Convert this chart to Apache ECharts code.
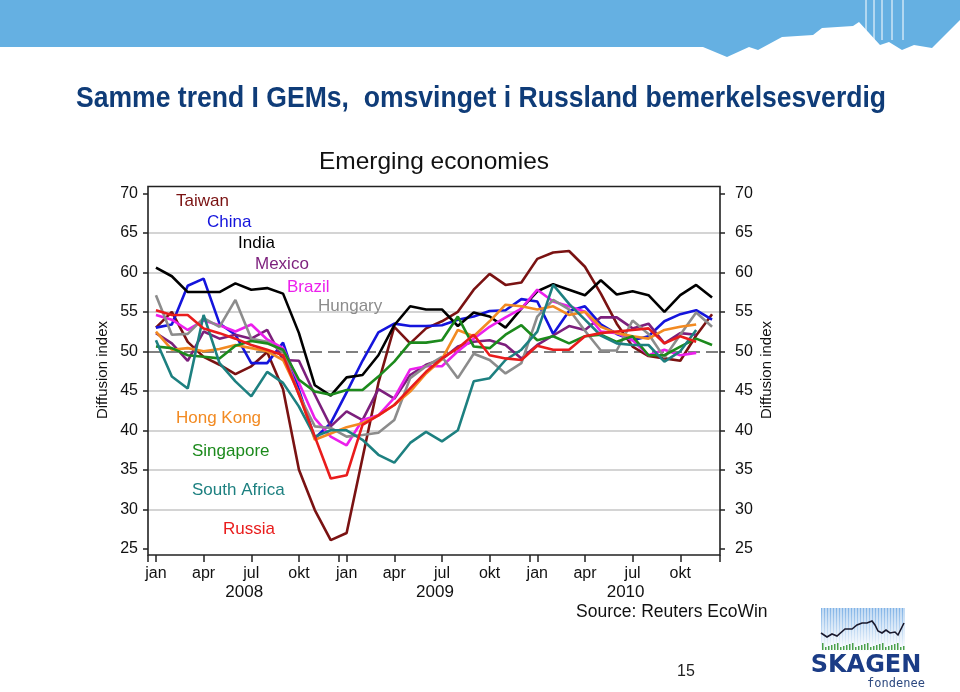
<!DOCTYPE html>
<html><head><meta charset="utf-8">
<script src="https://cdn.jsdelivr.net/npm/echarts@6/dist/echarts.min.js"></script>
<style>html,body{margin:0;padding:0;background:#fff}#c{width:960px;height:692px}</style>
</head><body><div id="c"></div>
<script>
// ---------- DATA ----------
const months = ['jan','feb','mar','apr','mai','jun','jul','aug','sep','okt','nov','des'];
const years = ['2008','2009','2010'];
const yTickValues = [25,30,35,40,45,50,55,60,65,70];
const referenceLevel = 50;
const seriesNames = ['Taiwan','China','India','Mexico','Brazil','Hungary','Hong Kong','Singapore','South Africa','Russia'];

const taiwan = [53.0,55.0,51.2,49.3,48.3,47.1,48.1,49.9,45.2,35.0,29.9,26.1,27.0,36.5,46.0,53.1,51.0,52.9,53.8,55.0,57.8,59.8,58.4,58.7,61.7,62.5,62.7,60.7,57.3,53.5,50.6,49.4,49.1,48.8,52.0,54.7];
const china = [53.0,53.4,58.3,59.2,53.5,52.1,48.5,48.5,51.1,45.1,39.0,40.9,44.8,48.8,52.4,53.5,53.2,53.2,53.3,54.0,54.4,55.1,55.2,56.6,56.3,52.2,55.1,55.7,53.4,52.2,51.4,51.9,53.8,54.7,55.2,54.0];
const india = [60.6,59.5,57.5,57.5,57.5,58.6,57.8,58.0,57.3,52.3,45.7,44.4,46.7,47.0,49.5,53.3,55.7,55.3,55.3,53.2,54.9,54.4,53.0,55.4,57.6,58.5,57.8,57.1,59.0,57.2,57.6,57.1,55.0,57.1,58.4,56.8];
const mexico = [52.3,51.0,48.8,52.5,51.6,52.1,51.6,52.7,48.9,48.8,44.5,40.5,42.4,41.3,45.2,44.0,47.0,48.3,49.0,50.6,51.2,51.4,50.8,49.1,50.8,52.0,53.2,52.7,54.3,54.3,52.9,53.5,51.0,52.3,52.1,null];
const brazil = [54.6,54.0,52.7,53.9,53.3,52.5,53.4,51.5,50.4,46.0,41.5,39.2,38.1,41.3,41.9,44.1,47.7,48.1,48.1,50.0,51.6,53.1,54.3,55.4,57.8,56.3,55.7,55.0,52.5,52.3,51.4,49.5,50.2,49.5,49.8,null];
const hungary = [57.1,52.1,52.2,54.2,53.1,56.5,51.6,51.2,50.0,44.5,40.5,40.3,39.2,39.4,39.7,41.3,46.6,48.1,49.3,46.6,49.7,48.9,47.2,48.5,54.4,56.5,55.3,52.6,50.1,50.1,53.9,52.2,49.2,52.1,54.9,53.1];
const hongKong = [52.5,50.2,50.4,50.0,50.3,50.8,50.4,50.0,48.9,44.7,38.8,39.6,40.4,40.9,41.9,43.2,44.9,47.2,49.0,52.7,51.9,53.8,55.9,55.7,55.3,55.7,54.6,55.0,53.1,52.3,51.9,51.6,52.7,53.1,53.4,null];
const singapore = [50.6,50.4,49.5,49.3,49.1,50.7,51.3,51.0,50.2,46.4,44.9,44.5,45.1,45.1,46.8,48.7,51.1,51.1,51.4,54.4,50.6,50.4,52.1,53.3,51.4,51.9,51.0,51.9,52.1,51.2,51.9,49.5,49.5,50.6,51.6,50.8];
const southAfrica = [51.4,46.8,45.3,54.6,48.5,46.2,44.3,47.4,46.0,43.0,39.2,40.0,40.0,38.8,36.9,35.9,38.4,39.8,38.6,40.0,46.2,46.6,48.9,50.2,52.5,58.4,56.0,54.0,52.0,51.0,50.8,50.8,48.7,50.0,52.7,null];
const russia = [55.2,54.6,54.6,52.9,52.3,51.6,50.8,50.2,49.5,44.5,39.2,33.9,34.3,40.7,41.9,43.2,45.3,47.4,49.1,50.4,52.1,49.5,49.1,48.9,50.7,50.2,50.2,51.9,52.3,52.5,52.7,52.9,51.0,51.9,51.2,null];

const seriesValues = [taiwan, china, india, mexico, brazil, hungary, hongKong, singapore, southAfrica, russia];

// ---------- STYLE / LAYOUT ----------
const colors = ['#7a1212','#1414dc','#000000','#7c1f7c','#ec1fec','#8c8c8c','#f28a22','#1c8a1c','#1d8080','#e91c1c'];
const labelPos = [[176,201],[207,222],[238,243],[255,264],[287,287],[318,306],[176,418],[192,451],[192,490],[223,529]];
const F = '"Liberation Sans", Arial, sans-serif';

const categories = [];
years.forEach(y => months.forEach(m => categories.push(m + ' ' + y)));

const chart = echarts.init(document.getElementById('c'), null, {renderer: 'canvas'});

const gridColors = yTickValues.map(v => (v === 25 || v === 70 || v === referenceLevel) ? 'rgba(0,0,0,0)' : '#c6c6c6');

const series = seriesNames.map((n, k) => ({
  name: n, type: 'line', data: seriesValues[k], symbol: 'none', connectNulls: false,
  lineStyle: {width: 2.6, color: colors[k]}, itemStyle: {color: colors[k]}, z: 3 + k,
  animation: false
}));
series[0].markLine = {
  silent: true, symbol: 'none', label: {show: false}, z: 2,
  lineStyle: {type: [12, 6], color: '#808080', width: 2},
  data: [{yAxis: referenceLevel}]
};

// graphic decorations
const graphics = [];
graphics.push({type: 'polygon', z: 0, shape: {points: [[0,0],[960,0],[960,20],[932,48],[914,45],[902,50],[889,42],[880,45],[859,22],[853,26],[822,28],[813,35],[782,37],[758,50],[749,47],[727,57],[703,47],[0,47]]}, style: {fill: '#65b0e2'}});
[866,874,882,892,903].forEach(x => graphics.push({type:'line', z:1, shape:{x1:x,y1:0,x2:x,y2:40}, style:{stroke:'#ffffff', lineWidth:1}}));
graphics.push({type:'text', x: 481, y: 99, scaleX: 0.885, style:{text:'Samme trend I GEMs,  omsvinget i Russland bemerkelsesverdig', font:'bold 30px "Liberation Sans", Arial, sans-serif', fill:'#0f3c78', align:'center', verticalAlign:'middle'}});
graphics.push({type:'text', x: 434, y: 162, style:{text:'Emerging economies', font:'24.5px ' + F, fill:'#111', align:'center', verticalAlign:'middle'}});
graphics.push({type:'rect', z: 10, shape:{x:148, y:186.5, width:572, height:368.5}, style:{fill:'none', stroke:'#222', lineWidth:1.6}});
seriesNames.forEach((n,k) => graphics.push({type:'text', z: 20, x: labelPos[k][0], y: labelPos[k][1], style:{text:n, font:'17px ' + F, fill: colors[k], align:'left', verticalAlign:'middle'}}));
graphics.push({type:'text', x:103, y:370, rotation: Math.PI/2, style:{text:'Diffusion index', font:'15px ' + F, fill:'#111', align:'center', verticalAlign:'middle'}});
graphics.push({type:'text', x:767, y:370, rotation: Math.PI/2, style:{text:'Diffusion index', font:'15px ' + F, fill:'#111', align:'center', verticalAlign:'middle'}});
graphics.push({type:'text', x:576, y:612, style:{text:'Source: Reuters EcoWin', font:'17.5px ' + F, fill:'#111', align:'left', verticalAlign:'middle'}});
graphics.push({type:'text', x:686, y:672, style:{text:'15', font:'16px ' + F, fill:'#222', align:'center', verticalAlign:'middle'}});
graphics.push({type:'rect', shape:{x:821, y:608, width:84, height:44}, style:{fill:{type:'linear', x:0,y:0,x2:0,y2:1, colorStops:[{offset:0,color:'#7fb2e6'},{offset:1,color:'#ffffff'}]}}});
for (let x = 823; x < 905; x += 3) graphics.push({type:'line', shape:{x1:x,y1:608,x2:x,y2:652}, style:{stroke:'#ffffff', lineWidth:1}});
graphics.push({type:'polyline', shape:{points:[[821,633],[827,637],[832,634],[837,636],[845,629],[852,629],[857,625],[862,623],[867,623],[872,621],[875,625],[878,631],[882,633],[886,630],[890,633],[895,632],[898,635],[904,623]]}, style:{stroke:'#1a1a2e', lineWidth:1.6, fill:'none'}});
for (let x = 822; x < 905; x += 3) { const h = 3 + ((x*7) % 5); graphics.push({type:'rect', shape:{x:x, y:650-h, width:1.5, height:h}, style:{fill:'#49a04a'}}); }
graphics.push({type:'text', x:866, y:666, style:{text:'SKAGEN', font:'bold 24px "DejaVu Sans", sans-serif', fill:'#1b3c86', align:'center', verticalAlign:'middle'}});
graphics.push({type:'text', x:896, y:684, style:{text:'fondenee', font:'12px "DejaVu Sans Mono", monospace', fill:'#2e4a80', align:'center', verticalAlign:'middle'}});

const option = {
  animation: false,
  backgroundColor: '#ffffff',
  textStyle: {fontFamily: F},
  grid: {left: 148, right: 240, top: 193.3, bottom: 143.2, containLabel: false},
  xAxis: [
    {type: 'category', data: categories, boundaryGap: true, offset: 6.2,
     axisLine: {show: false},
     axisTick: {show: true, interval: (i) => i % 3 === 0, alignWithLabel: true, length: 7, lineStyle: {color: '#222', width: 1.5}},
     axisLabel: {interval: 0, margin: 9, color: '#111', fontSize: 16,
       formatter: (v, i) => {
         if (i % 3 !== 0) return '';
         const m = months[i % 12];
         if (i % 12 === 6) return '{m|' + m + '}\n{y|' + years[Math.floor(i / 12)] + '}';
         return '{m|' + m + '}';
       },
       rich: {m: {fontSize: 16, lineHeight: 19, color: '#111', fontFamily: F}, y: {fontSize: 17, lineHeight: 19, color: '#111', fontFamily: F, padding: [0, 14, 0, 0]}}},
     splitLine: {show: false}},
    {type: 'category', data: categories, boundaryGap: true, offset: 6.2, position: 'bottom',
     axisLine: {show: false},
     axisTick: {show: true, interval: (i) => i % 12 === 0, alignWithLabel: false, length: 7, lineStyle: {color: '#222', width: 1.5}},
     axisLabel: {show: false}, splitLine: {show: false}}
  ],
  yAxis: [
    {type: 'value', min: 25, max: 70, interval: 5, position: 'left',
     axisLine: {show: false}, axisTick: {show: true, length: 5, lineStyle: {color: '#222', width: 1.5}},
     axisLabel: {fontSize: 16, color: '#111', margin: 10},
     splitLine: {show: true, lineStyle: {color: gridColors, width: 1.6}}},
    {type: 'value', min: 25, max: 70, interval: 5, position: 'right',
     axisLine: {show: false}, axisTick: {show: true, length: 5, lineStyle: {color: '#222', width: 1.5}},
     axisLabel: {fontSize: 16, color: '#111', margin: 15},
     splitLine: {show: false}}
  ],
  series: series,
  graphic: graphics
};
chart.setOption(option);
</script>
</body></html>
